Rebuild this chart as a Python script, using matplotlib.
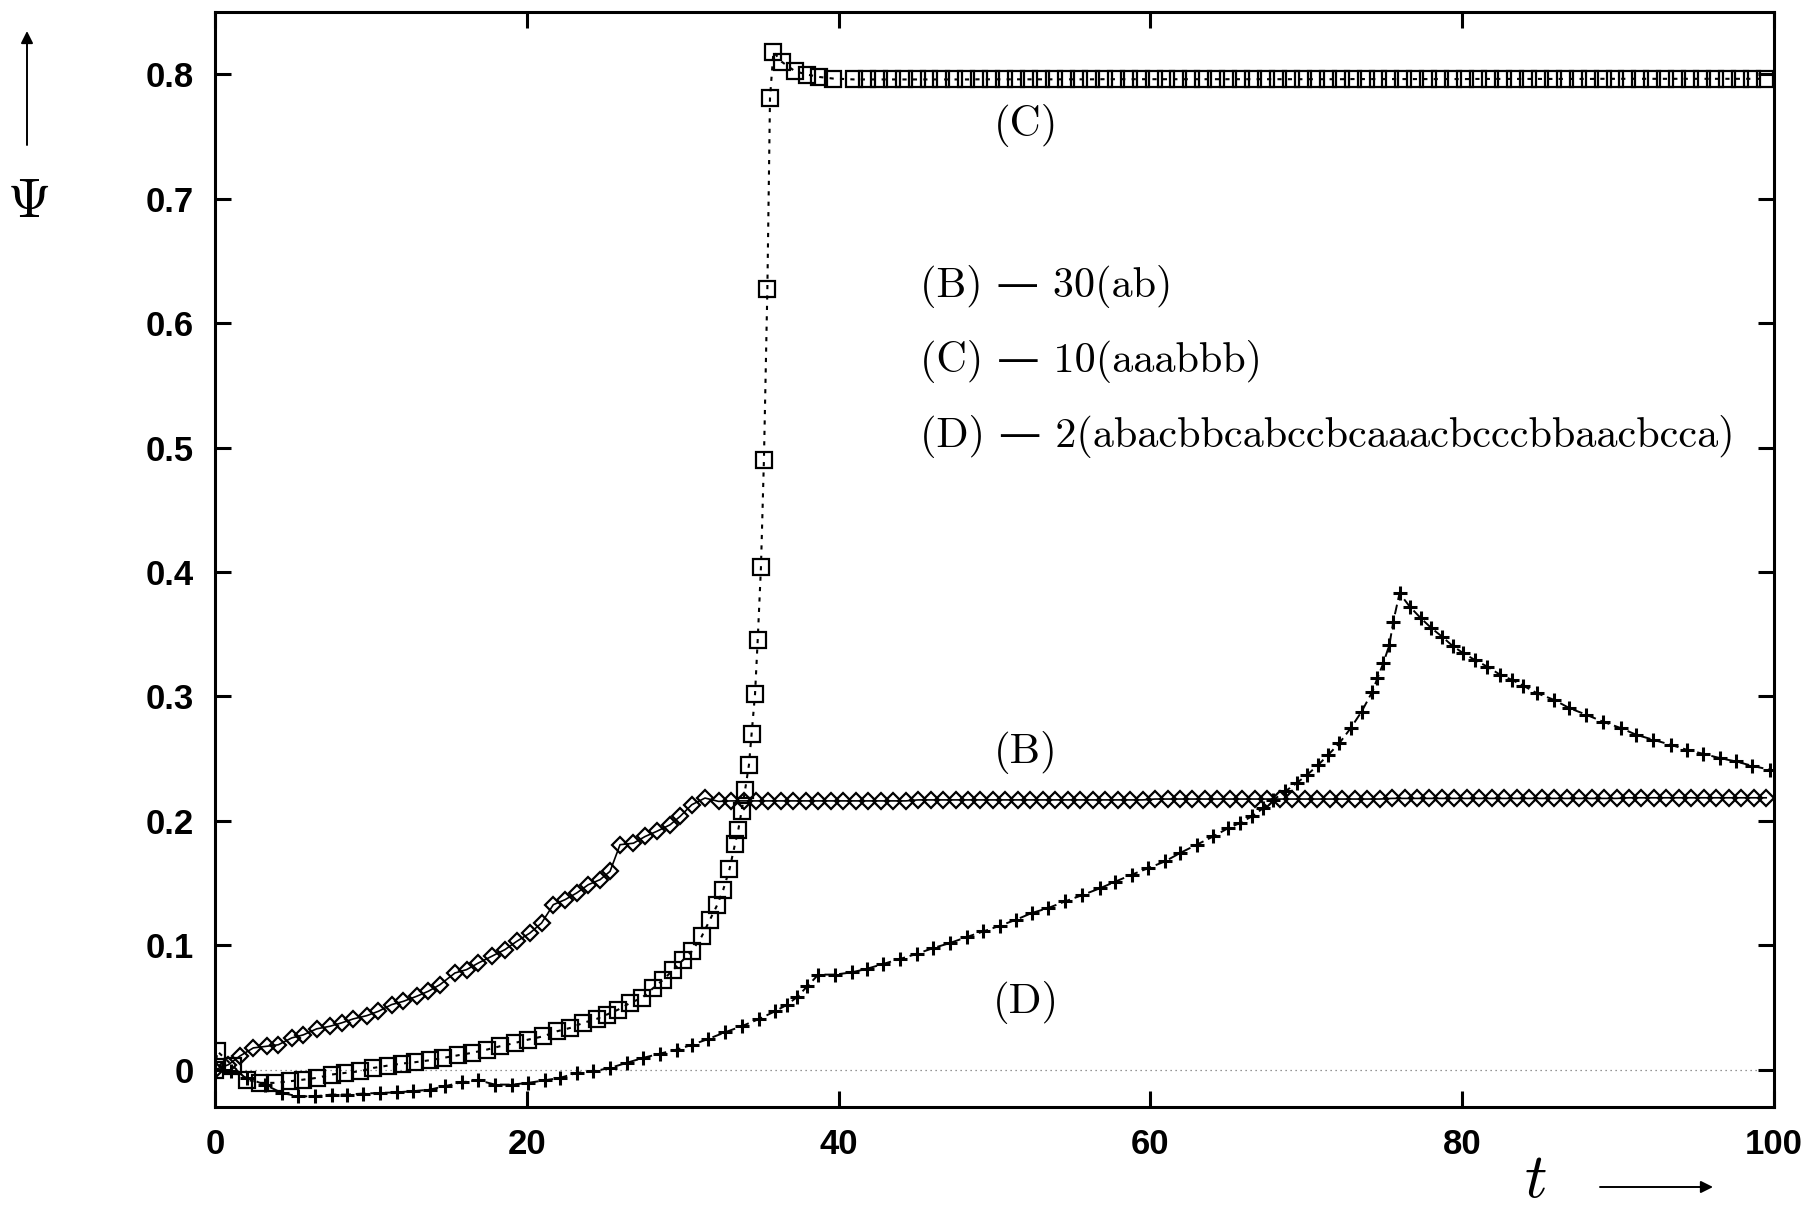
import matplotlib
matplotlib.use("Agg")
import matplotlib.pyplot as plt

plt.rcParams['mathtext.fontset'] = 'cm'
plt.rcParams['font.family'] = ['Liberation Sans', 'DejaVu Sans']

# ---------------- data ----------------
# (B) 30(ab) : diamonds, solid line
t_B = [0.0, 0.86, 1.60, 2.46, 3.31, 4.06, 4.92, 5.67, 6.52, 7.38, 8.12, 8.87, 9.73,
       10.48, 11.33, 12.08, 12.94, 13.68, 14.43, 15.39, 16.14, 16.89, 17.75, 18.60,
       19.35, 20.20, 20.95, 21.70, 22.45, 23.20, 23.95, 24.70, 25.34, 25.98, 26.84,
       27.59, 28.33, 29.19, 29.83, 30.58, 31.43, 32.30,
       33.1, 33.9, 34.7, 35.5, 36.3, 37.1, 37.9, 38.7, 39.5, 40.3, 41.1, 41.9, 42.7,
       43.5, 44.3, 45.1, 45.9, 46.7, 47.5, 48.3, 49.1, 49.9, 50.7, 51.5, 52.3, 53.1,
       53.9, 54.7, 55.5, 56.3, 57.1, 57.9, 58.7, 59.5, 60.3, 61.1, 61.9, 62.7, 63.5,
       64.3, 65.1, 65.9, 66.7, 67.5, 68.3, 69.1, 69.9, 70.7, 71.5, 72.3, 73.1, 73.9,
       74.7, 75.5, 76.3, 77.1, 77.9, 78.7, 79.5, 80.3, 81.1, 81.9, 82.7, 83.5, 84.3,
       85.1, 85.9, 86.7, 87.5, 88.3, 89.1, 89.9, 90.7, 91.5, 92.3, 93.1, 93.9, 94.7,
       95.5, 96.3, 97.1, 97.9, 98.7, 99.5]
psi_B = [0.000, 0.004, 0.011, 0.0175, 0.0188, 0.020, 0.0255, 0.028, 0.0328, 0.0349,
         0.0376, 0.0408, 0.0434, 0.0469, 0.0523, 0.0549, 0.059, 0.063, 0.0683, 0.0777,
         0.0804, 0.0857, 0.0911, 0.0965, 0.1031, 0.1098, 0.1179, 0.1326, 0.1366, 0.142,
         0.1487, 0.1527, 0.1594, 0.1808, 0.182, 0.1874, 0.1915, 0.1968, 0.2035, 0.2129,
         0.2183, 0.2156,
         0.2160, 0.2160, 0.2160, 0.2160, 0.2160, 0.2160, 0.2160, 0.2160, 0.2160, 0.2160,
         0.2160, 0.2160, 0.2160, 0.2160, 0.2160,
         0.2168, 0.2168, 0.2168, 0.2168, 0.2168, 0.2168, 0.2168, 0.2168, 0.2168, 0.2168,
         0.2168, 0.2168, 0.2168, 0.2168, 0.2168, 0.2168, 0.2168, 0.2168, 0.2168,
         0.2175, 0.2175, 0.2175, 0.2175, 0.2175, 0.2175, 0.2175, 0.2175, 0.2175, 0.2175,
         0.2175, 0.2175, 0.2175, 0.2175, 0.2175, 0.2175, 0.2175, 0.2175, 0.2175,
         0.2180, 0.2180, 0.2180, 0.2180, 0.2180, 0.2180, 0.2180, 0.2180, 0.2180, 0.2180,
         0.2180, 0.2180, 0.2180, 0.2180, 0.2180, 0.2180, 0.2180, 0.2180, 0.2180,
         0.2185, 0.2185, 0.2185, 0.2185, 0.2185, 0.2185, 0.2185, 0.2185, 0.2185, 0.2185,
         0.2185, 0.2185]

# (C) 10(aaabbb) : squares, dotted line
t_C = [0.0, 0.15, 1.17, 2.03, 2.89, 3.85, 4.81, 5.67, 6.52, 7.48, 8.34, 9.30, 10.15,
       11.10, 11.98, 12.83, 13.79, 14.64, 15.61, 16.47, 17.43, 18.28, 19.24, 20.10,
       21.06, 21.92, 22.77, 23.62, 24.48, 25.12, 25.87, 26.62, 27.37, 28.12, 28.76,
       29.40, 30.04, 30.58, 31.22, 31.75, 32.20, 32.60, 33.00, 33.35, 33.57, 33.78,
       34.00, 34.25, 34.42, 34.64, 34.81, 35.02, 35.21, 35.43, 35.60, 35.82, 36.35,
       37.20, 37.99, 38.76, 39.66,
       41.0, 41.8, 42.6, 43.4, 44.2, 45.0, 45.8, 46.6, 47.4, 48.2, 49.0, 49.8, 50.6,
       51.4, 52.2, 53.0, 53.8, 54.6, 55.4, 56.2, 57.0, 57.8, 58.6, 59.4, 60.2, 61.0,
       61.8, 62.6, 63.4, 64.2, 65.0, 65.8, 66.6, 67.4, 68.2, 69.0, 69.8, 70.6, 71.4,
       72.2, 73.0, 73.8, 74.6, 75.4, 76.2, 77.0, 77.8, 78.6, 79.4, 80.2, 81.0, 81.8,
       82.6, 83.4, 84.2, 85.0, 85.8, 86.6, 87.4, 88.2, 89.0, 89.8, 90.6, 91.4, 92.2,
       93.0, 93.8, 94.6, 95.4, 96.2, 97.0, 97.8, 98.6, 99.4]
psi_C = [0.0, 0.0148, 0.0027, -0.008, -0.0106, -0.0106, -0.0093, -0.008, -0.0066,
         -0.0039, -0.0026, -0.0013, 0.0014, 0.0033, 0.0049, 0.006, 0.0076, 0.0095,
         0.0116, 0.0135, 0.0161, 0.0188, 0.0215, 0.0242, 0.0268, 0.0308, 0.0335,
         0.0376, 0.0408, 0.0442, 0.0483, 0.0536, 0.0576, 0.0657, 0.0724, 0.0804,
         0.0884, 0.0951, 0.1071, 0.1205, 0.132, 0.1446, 0.161, 0.181, 0.193, 0.208,
         0.2247, 0.245, 0.270, 0.302, 0.345, 0.404, 0.490, 0.627, 0.781, 0.818, 0.810,
         0.8024, 0.7997, 0.7978, 0.7965,
         0.7958, 0.7958, 0.7958, 0.7958, 0.7958, 0.7958, 0.7958, 0.7958, 0.7958, 0.7958,
         0.7959, 0.7959, 0.7959, 0.7959, 0.7959, 0.7959, 0.7959, 0.7959, 0.7959, 0.7959,
         0.7960, 0.7960, 0.7960, 0.7960, 0.7960, 0.7960, 0.7960, 0.7960, 0.7960, 0.7960,
         0.7960, 0.7960, 0.7960, 0.7960, 0.7960, 0.7960, 0.7960, 0.7960, 0.7960, 0.7960,
         0.7961, 0.7961, 0.7961, 0.7961, 0.7961, 0.7961, 0.7961, 0.7961, 0.7961, 0.7961,
         0.7962, 0.7962, 0.7962, 0.7962, 0.7962, 0.7962, 0.7962, 0.7962, 0.7962, 0.7962,
         0.7963, 0.7963, 0.7963, 0.7963, 0.7963, 0.7963, 0.7963, 0.7963, 0.7963, 0.7963,
         0.7963, 0.7963, 0.7963, 0.7963]

# (D) 2(abacbbcabccbcaaacbcccbbaacbcca) : plus signs, dashed line
t_D = [0.0, 1.0, 2.03, 3.20, 4.28, 5.34, 6.41, 7.48, 8.44, 9.51, 10.58, 11.65, 12.72,
       13.79, 14.75, 15.82, 16.89, 17.96, 19.03, 20.10, 21.17, 22.13, 23.20, 24.27,
       25.34, 26.41, 27.47, 28.54, 29.61, 30.60, 31.60, 32.71, 33.78, 34.91, 35.92,
       36.71, 37.35, 37.99, 38.70, 39.77, 40.84, 41.80, 42.87, 43.94, 45.05, 46.08,
       47.15, 48.22, 49.28, 50.35, 51.38, 52.39, 53.45, 54.52, 55.59, 56.75, 57.73,
       58.80, 59.87, 60.94, 61.90, 62.97, 64.03, 65.00, 65.75, 66.50, 67.24, 67.89,
       68.64, 69.38, 70.06, 70.77, 71.41, 72.12, 72.85, 73.55, 74.24, 74.56, 74.94,
       75.33, 75.58, 75.98, 76.63, 77.35, 78.03, 78.70, 79.38, 80.07, 80.81, 81.59,
       82.45, 83.19, 83.93, 84.79, 85.89, 86.87, 87.97, 89.00, 90.18, 91.17, 92.27,
       93.37, 94.41, 95.47, 96.52, 97.55, 98.60, 99.75]
psi_D = [0.0, -0.001, -0.0066, -0.012, -0.0187, -0.0214, -0.0214, -0.020, -0.020,
         -0.0192, -0.0187, -0.0182, -0.0173, -0.016, -0.0133, -0.0101, -0.0085, -0.012,
         -0.012, -0.0106, -0.0085, -0.0066, -0.0026, -0.0013, 0.0014, 0.0055, 0.0095,
         0.0129, 0.0161, 0.020, 0.0245, 0.030, 0.0349, 0.0408, 0.0469, 0.0523, 0.0585,
         0.067, 0.0764, 0.0764, 0.0782, 0.081, 0.085, 0.089, 0.0932, 0.0978, 0.1018,
         0.1066, 0.1111, 0.1157, 0.1205, 0.1259, 0.1299, 0.1352, 0.1401, 0.1457, 0.151,
         0.1567, 0.162, 0.1674, 0.1741, 0.1808, 0.1874, 0.1942, 0.1982, 0.2035, 0.2102,
         0.2169, 0.2236, 0.2303, 0.237, 0.245, 0.253, 0.2624, 0.2745, 0.2878, 0.3039,
         0.3146, 0.3267, 0.3414, 0.3601, 0.3829, 0.3722, 0.3628, 0.3548, 0.3481, 0.3406,
         0.3347, 0.3293, 0.324, 0.3173, 0.3133, 0.3085, 0.3026, 0.2972, 0.2906, 0.2852,
         0.2798, 0.2745, 0.2691, 0.2651, 0.2611, 0.2571, 0.2538, 0.2504, 0.2477, 0.2442,
         0.241]

x_ticks = [0, 20, 40, 60, 80, 100]
x_ticklabels = ['0', '20', '40', '60', '80', '100']
y_ticks = [0, 0.1, 0.2, 0.3, 0.4, 0.5, 0.6, 0.7, 0.8]
y_ticklabels = ['0', '0.1', '0.2', '0.3', '0.4', '0.5', '0.6', '0.7', '0.8']

curve_labels = ['(C)', '(B)', '(D)']
legend_lines = ['(B) \u2014 30(ab)',
                '(C) \u2014 10(aaabbb)',
                '(D) \u2014 2(abacbbcabccbcaaacbcccbbaacbcca)']

# ---------------- figure ----------------
W, H = 1812, 1207
fig = plt.figure(figsize=(W / 100, H / 100), dpi=100)
ax = fig.add_axes([215 / W, 1 - 1107 / H, (1774 - 215) / W, (1107 - 12) / H])

ax.axhline(0, color='0.45', lw=0.9, ls=(0, (1, 3)), zorder=1)

ax.plot(t_B, psi_B, color='k', lw=1.2, ls='-', marker='D', ms=8.4,
        mfc='none', mec='k', mew=1.6, zorder=3)
ax.plot(t_C, psi_C, color='k', lw=1.5, ls=(0, (2, 3)), marker='s', ms=11.5,
        mfc='none', mec='k', mew=1.6, zorder=3)
ax.plot(t_D, psi_D, color='k', lw=1.4, ls=(0, (5, 2.5)), marker='+', ms=9.8,
        mfc='none', mec='k', mew=2.2, zorder=3)

ax.set_xlim(0, 100)
ax.set_ylim(-0.03, 0.85)
ax.set_xticks(x_ticks)
ax.set_xticklabels(x_ticklabels)
ax.set_yticks(y_ticks)
ax.set_yticklabels(y_ticklabels)
ax.tick_params(direction='in', length=11.5, width=2.2, top=True, right=True,
               labelsize=25, pad=15)
for lbl in ax.get_xticklabels() + ax.get_yticklabels():
    lbl.set_fontweight('bold')
for sp in ax.spines.values():
    sp.set_linewidth(2.2)

serif = ['cmr10', 'DejaVu Serif']
ax.text(52.0, 0.759, curve_labels[0], family=serif, fontsize=31, ha='center', va='center')
ax.text(52.0, 0.255, curve_labels[1], family=serif, fontsize=31, ha='center', va='center')
ax.text(52.0, 0.054, curve_labels[2], family=serif, fontsize=31, ha='center', va='center')

legend_y = [0.629, 0.569, 0.509]
for s, yy in zip(legend_lines, legend_y):
    ax.text(45.2, yy, s, family=serif, fontsize=30.4, ha='left', va='center')

# axis labels with arrows
fig.text(28 / W, 1 - 203 / H, r'$\Psi$', fontsize=40, ha='center', va='center')
fig.text(1535 / W, 1 - 1180 / H, r'$t$', fontsize=45, ha='center', va='center')
ax.annotate('', xy=(27 / W, 1 - 31 / H), xytext=(27 / W, 1 - 145 / H),
            xycoords='figure fraction', textcoords='figure fraction',
            arrowprops=dict(arrowstyle='-|>', lw=1.4, color='k', mutation_scale=18,
                            shrinkA=0, shrinkB=0), annotation_clip=False)
ax.annotate('', xy=(1713 / W, 1 - 1187 / H), xytext=(1600 / W, 1 - 1187 / H),
            xycoords='figure fraction', textcoords='figure fraction',
            arrowprops=dict(arrowstyle='-|>', lw=1.4, color='k', mutation_scale=18,
                            shrinkA=0, shrinkB=0), annotation_clip=False)

fig.savefig('out.png', dpi=100)
